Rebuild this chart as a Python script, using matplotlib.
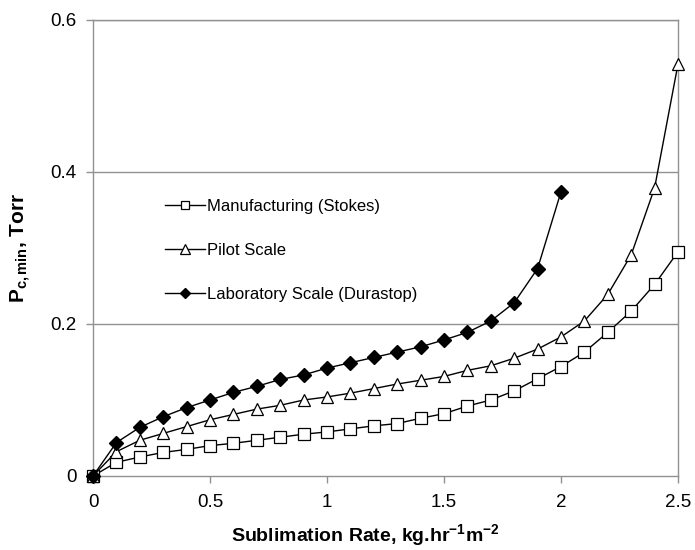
import matplotlib
matplotlib.use("Agg")
import matplotlib.pyplot as plt

plt.rcParams['font.family'] = ['Liberation Sans', 'DejaVu Sans']
plt.rcParams['mathtext.fontset'] = 'custom'
plt.rcParams['mathtext.rm'] = 'Liberation Sans'
plt.rcParams['mathtext.bf'] = 'Liberation Sans:bold'
plt.rcParams['mathtext.it'] = 'Liberation Sans:italic'

# Data
x_manuf = [0, 0.1, 0.2, 0.3, 0.4, 0.5, 0.6, 0.7, 0.8, 0.9, 1.0, 1.1, 1.2, 1.3,
           1.4, 1.5, 1.6, 1.7, 1.8, 1.9, 2.0, 2.1, 2.2, 2.3, 2.4, 2.5]
y_manuf = [0, 0.018, 0.025, 0.031, 0.035, 0.040, 0.043, 0.047, 0.051, 0.055,
           0.058, 0.062, 0.066, 0.069, 0.076, 0.082, 0.092, 0.100, 0.112,
           0.128, 0.144, 0.163, 0.189, 0.217, 0.252, 0.295]

x_pilot = x_manuf
y_pilot = [0, 0.032, 0.047, 0.056, 0.065, 0.074, 0.081, 0.088, 0.093, 0.100,
           0.104, 0.109, 0.115, 0.121, 0.126, 0.131, 0.139, 0.145, 0.155,
           0.167, 0.183, 0.204, 0.239, 0.291, 0.379, 0.542]

x_lab = [0, 0.1, 0.2, 0.3, 0.4, 0.5, 0.6, 0.7, 0.8, 0.9, 1.0, 1.1, 1.2, 1.3,
         1.4, 1.5, 1.6, 1.7, 1.8, 1.9, 2.0]
y_lab = [0, 0.044, 0.064, 0.078, 0.090, 0.100, 0.110, 0.118, 0.127, 0.133,
         0.142, 0.149, 0.156, 0.163, 0.170, 0.179, 0.189, 0.204, 0.228,
         0.273, 0.374]

labels = ["Manufacturing (Stokes)", "Pilot Scale", "Laboratory Scale (Durastop)"]
x_ticks = [0, 0.5, 1, 1.5, 2, 2.5]
x_ticklabels = ["0", "0.5", "1", "1.5", "2", "2.5"]
y_ticks = [0, 0.2, 0.4, 0.6]
y_ticklabels = ["0", "0.2", "0.4", "0.6"]

fig = plt.figure(figsize=(6.95, 5.5), dpi=100)
ax = fig.add_axes([93/695, 74/550, 585/695, 456/550])

grid_c = '#929292'
for yv in y_ticks[1:]:
    ax.axhline(yv, color=grid_c, lw=1.0, zorder=0)

ax.plot(x_manuf, y_manuf, color='black', lw=1.0, marker='s', markersize=8,
        markerfacecolor='white', markeredgecolor='black', markeredgewidth=0.9,
        label=labels[0], clip_on=False, zorder=3)
ax.plot(x_pilot, y_pilot, color='black', lw=1.0, marker='^', markersize=9,
        markerfacecolor='white', markeredgecolor='black', markeredgewidth=0.9,
        label=labels[1], clip_on=False, zorder=4)
ax.plot(x_lab, y_lab, color='black', lw=1.0, marker='D', markersize=7,
        markerfacecolor='black', markeredgecolor='black',
        label=labels[2], clip_on=False, zorder=5)

ax.set_xlim(0, 2.5)
ax.set_ylim(0, 0.6)
ax.set_xticks(x_ticks)
ax.set_xticklabels(x_ticklabels)
ax.set_yticks(y_ticks)
ax.set_yticklabels(y_ticklabels)
ax.tick_params(axis='both', direction='out', length=5, width=1.0,
               color=grid_c, labelsize=13.5)
ax.tick_params(axis='x', pad=8)
ax.tick_params(axis='y', pad=7)

for s in ax.spines.values():
    s.set_color(grid_c)
    s.set_linewidth(1.0)

ax.set_xlabel(r'Sublimation Rate, kg.hr$^{\mathbf{-1}}$m$^{\mathbf{-2}}$',
              fontsize=14, fontweight='bold')
ax.xaxis.set_label_coords(0.465, -0.1)
ax.set_ylabel(r'$\mathbf{P_{c,min}}$, Torr', fontsize=15, fontweight='bold',
              labelpad=12)

leg = ax.legend(loc='upper left', bbox_to_anchor=(0.123, 0.608), frameon=False,
                fontsize=12, handlelength=2.4, handletextpad=0.15,
                labelspacing=1.75, borderpad=0, borderaxespad=0,
                markerscale=0.8)

fig.savefig('out.png', dpi=100)
